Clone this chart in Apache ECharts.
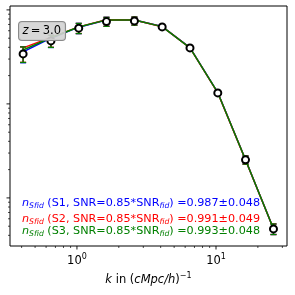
<!DOCTYPE html>
<html><head><meta charset="utf-8">
<script src="https://cdn.jsdelivr.net/npm/echarts@6/dist/echarts.min.js"></script>
<style>html,body{margin:0;padding:0;background:#fff}#c{width:295px;height:295px}</style>
</head><body><div id="c"></div>
<script>
// ---- data ----
const kValues = [0.41, 0.65, 1.03, 1.63, 2.59, 4.1, 6.5, 10.3, 16.3, 25.9];
const truth   = [34.0, 46.8, 63.9, 75.1, 76.4, 65.9, 39.4, 13.1, 2.54, 0.468];
const s1      = [35.7, 50.0, 65.5, 78.0, 78.0, 66.5, 39.6, 13.2, 2.55, 0.47];
const s2      = [39.4, 51.0, 66.0, 78.5, 78.2, 66.3, 39.5, 13.1, 2.54, 0.47];
const s3      = [37.5, 50.5, 65.8, 78.3, 78.1, 66.4, 39.5, 13.15, 2.55, 0.47];
// error bars (drawn around the reference points)
const err1    = [6.6, 7.0, 8.0, 8.3, 7.5, 3.0, 1.5, 0.5, 0.25, 0.06];
const err2    = [6.3, 6.8, 7.8, 8.1, 7.4, 3.0, 1.5, 0.5, 0.25, 0.06];
const err3    = [6.4, 6.9, 7.9, 8.2, 7.5, 3.0, 1.5, 0.5, 0.25, 0.06];
const seriesNames = ['S1', 'S2', 'S3'];
const fitValues = ['0.987±0.048', '0.991±0.049', '0.993±0.048'];
const xMajorTicks = [1, 10];
const xMinorTicks = [0.4,0.5,0.6,0.7,0.8,0.9,2,3,4,5,6,7,8,9,20,30];
const yMajorTicks = [1, 10, 100];
const yMinorTicks = [0.4,0.5,0.6,0.7,0.8,0.9,2,3,4,5,6,7,8,9,20,30,40,50,60,70,80,90];
const xTickLabels = {1: '0', 10: '1'};   // exponents of 10
const zLabel = '3.0';

const colors = ['#0000ff', '#ff0000', '#008000'];
const FONT = 'DejaVu Sans';
const chart = echarts.init(document.getElementById('c'), null, {renderer: 'canvas'});

const vals = [s1, s2, s3];
const errs = [err1, err2, err3];

function isMajor(v){ const l = Math.log10(v); return Math.abs(l - Math.round(l)) < 1e-9; }

function xTickRender(params, api){
  const v = api.value(0);
  const cs = params.coordSys;
  const x = api.coord([v, 1])[0];
  const y0 = cs.y + cs.height;
  const len = isMajor(v) ? 3.5 : 2;
  return {type:'line', shape:{x1:x, y1:y0, x2:x, y2:y0+len},
          style:{stroke:'#000', lineWidth: isMajor(v) ? 0.9 : 0.7}};
}
function yTickRender(params, api){
  const v = api.value(1);
  const cs = params.coordSys;
  const y = api.coord([1, v])[1];
  const x0 = cs.x;
  const len = isMajor(v) ? 3.5 : 2;
  return {type:'line', shape:{x1:x0, y1:y, x2:x0-len, y2:y},
          style:{stroke:'#000', lineWidth: isMajor(v) ? 0.9 : 0.7}};
}
function errRender(color){
  return function(params, api){
    const x = api.value(0);
    const lo = api.coord([x, api.value(1)]);
    const hi = api.coord([x, api.value(2)]);
    const w = 3;
    const st = {stroke: color, lineWidth: 1.3};
    return {type:'group', children:[
      {type:'line', shape:{x1:lo[0], y1:lo[1], x2:hi[0], y2:hi[1]}, style:st},
      {type:'line', shape:{x1:lo[0]-w, y1:lo[1], x2:lo[0]+w, y2:lo[1]}, style:st},
      {type:'line', shape:{x1:hi[0]-w, y1:hi[1], x2:hi[0]+w, y2:hi[1]}, style:st}
    ]};
  };
}

const series = [];
for (let i = 0; i < 3; i++) {
  series.push({
    type:'line', data: kValues.map((k,j)=>[k, vals[i][j]]),
    symbol:'none', lineStyle:{color: colors[i], width:1.5}, itemStyle:{color: colors[i]},
    z: 2 + i, animation:false, silent:true
  });
  series.push({
    type:'custom', renderItem: errRender(colors[i]),
    data: kValues.map((k,j)=>[k, truth[j]-errs[i][j], truth[j]+errs[i][j]]),
    encode:{x:0, y:[1,2]}, z: 2 + i, animation:false, silent:true
  });
}
series.push({
  type:'scatter', data: kValues.map((k,j)=>[k, truth[j]]),
  symbol:'circle', symbolSize:7,
  itemStyle:{color:'#fff', borderColor:'#000', borderWidth:2, opacity:1},
  z: 10, animation:false, silent:true
});
series.push({
  type:'custom', renderItem: xTickRender, clip:false,
  data: xMajorTicks.concat(xMinorTicks).map(v=>[v, 1]), encode:{x:0, y:1},
  z: 1, animation:false, silent:true
});
series.push({
  type:'custom', renderItem: yTickRender, clip:false,
  data: yMajorTicks.concat(yMinorTicks).map(v=>[1, v]), encode:{x:0, y:1},
  z: 1, animation:false, silent:true
});

function legendLine(i){
  const c = colors[i];
  return {
    type:'text', left: 22, top: [198, 214, 226][i],
    style:{
      text: '{n|n}{sub|Sfid}{t| (' + seriesNames[i] + ', SNR=0.85*SNR}{sub|fid}{t|) =' + fitValues[i] + '}',
      font: '11.2px "' + FONT + '"',
      rich:{
        n:{fontFamily:FONT, fontSize:11.2, fontStyle:'italic', fill:c, lineHeight:14},
        sub:{fontFamily:FONT, fontSize:7.7, fontStyle:'italic', fill:c, lineHeight:9, verticalAlign:'bottom'},
        t:{fontFamily:FONT, fontSize:11.2, fill:c, lineHeight:14}
      }
    },
    z: 20
  };
}

const option = {
  backgroundColor:'#fff',
  animation:false,
  grid:{left:10, right:8, top:6, bottom:49, show:true, borderColor:'#000', borderWidth:1, backgroundColor:'transparent'},
  xAxis:{
    type:'log', logBase:10, min:0.33, max:32.4,
    axisLine:{show:false}, axisTick:{show:false}, splitLine:{show:false},
    axisLabel:{
      margin:7,
      formatter: function(v){
        for (const t of xMajorTicks) if (Math.abs(v - t) < 1e-9*t) return '{b|10}{s|' + xTickLabels[t] + '}';
        return '';
      },
      showMinLabel:true, showMaxLabel:true,
      rich:{
        b:{fontFamily:FONT, fontSize:11.5, color:'#000', lineHeight:14, verticalAlign:'bottom'},
        s:{fontFamily:FONT, fontSize:8, color:'#000', lineHeight:9, verticalAlign:'top'}
      }
    },
    name:'{i|k}{t| in (}{i|cMpc/h}{t|)}{s|−1}',
    nameLocation:'middle', nameGap:25,
    nameTextStyle:{
      rich:{
        i:{fontFamily:FONT, fontSize:11.5, fontStyle:'italic', color:'#000', lineHeight:14, verticalAlign:'bottom'},
        t:{fontFamily:FONT, fontSize:11.5, color:'#000', lineHeight:14, verticalAlign:'bottom'},
        s:{fontFamily:FONT, fontSize:8, color:'#000', lineHeight:9, verticalAlign:'top'}
      }
    }
  },
  yAxis:{
    type:'log', logBase:10, min:0.308, max:110,
    axisLine:{show:false}, axisTick:{show:false}, splitLine:{show:false}, axisLabel:{show:false}
  },
  graphic:[
    {
      type:'text', left:18, top:21,
      style:{
        text:'{i|z}{t|\u2009=\u2009' + zLabel + '}',
        backgroundColor:'rgba(211,211,211,0.9)', borderColor:'#8a8a8a', borderWidth:1, borderRadius:3,
        padding:[2,4,2,3.5],
        rich:{
          i:{fontFamily:FONT, fontSize:11.5, fontStyle:'italic', fill:'#000', lineHeight:14},
          t:{fontFamily:FONT, fontSize:11.5, fill:'#000', lineHeight:14}
        }
      },
      z: 30
    },
    legendLine(0), legendLine(1), legendLine(2)
  ],
  series: series
};
chart.setOption(option);
</script>
</body></html>
